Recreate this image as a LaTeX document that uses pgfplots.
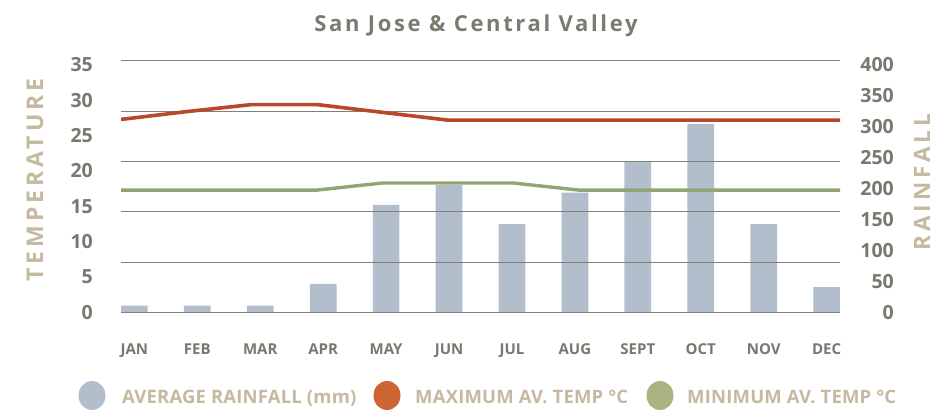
\documentclass[border=0pt]{standalone}
\usepackage{pgfplots}
\pgfplotsset{compat=1.18}
\usepackage{fontspec}
\setmainfont{Open Sans}
\newfontfamily\titlefont[LetterSpace=12]{Open Sans}
\newfontfamily\axtitlefont[LetterSpace=17.5]{Open Sans}
\newfontfamily\legfont[LetterSpace=1]{Open Sans}
\definecolor{barblue}{HTML}{B2BECB}
\definecolor{redline}{HTML}{B9472A}
\definecolor{greenline}{HTML}{91A573}
\definecolor{legorange}{HTML}{CD6532}
\definecolor{leggreen}{HTML}{AAB482}
\definecolor{gridgrey}{HTML}{808078}
\definecolor{tickgrey}{HTML}{7A776E}
\definecolor{titlegrey}{HTML}{7D7A71}
\definecolor{tan}{HTML}{C5B9A0}
\begin{document}
\begin{tikzpicture}
\path[use as bounding box] (0,0) rectangle (937pt,411pt);
% Rainfall axis (right)
\begin{axis}[
  at={(121pt,98.7pt)}, anchor=south west, scale only axis,
  width=719pt, height=251.3pt,
  xmin=-0.2123, xmax=11.2123, ymin=0, ymax=406.5,
  axis x line*=bottom, axis y line*=right,
  axis line style={draw=none},
  major tick length=0pt,
  ytick={0,50,...,400},
  xtick={0,...,11},
  xticklabels={JAN,FEB,MAR,APR,MAY,JUN,JUL,AUG,SEPT,OCT,NOV,DEC},
  /pgf/number format/assume math mode=true,
  yticklabel style={anchor=east, inner sep=0pt, xshift=54pt,
    font=\fontsize{19.5}{20}\selectfont\bfseries, text=tickgrey},
  xticklabel style={anchor=base, inner sep=0pt, yshift=-42.7pt,
    font=\fontsize{15}{16}\selectfont\bfseries, text=tickgrey},
]
\addplot[ybar, bar width=26.7pt, fill=barblue, draw=none] coordinates {
  (0,10.7) (1,10.7) (2,10.7) (3,45.8) (4,173.6) (5,205.9)
  (6,142.8) (7,193.5) (8,243.6) (9,304.6) (10,142.8) (11,40.9)};
\end{axis}
% Temperature axis (left)
\begin{axis}[
  at={(121pt,98.7pt)}, anchor=south west, scale only axis,
  width=719pt, height=251.3pt,
  xmin=-0.2123, xmax=11.2123, ymin=0, ymax=35.57,
  axis x line*=bottom, axis y line*=left,
  axis line style={draw=none},
  major tick length=0pt,
  xtick=\empty,
  ytick={0,5,...,35},
  extra y ticks={0,7.114,14.228,21.342,28.456,35.57},
  extra y tick labels={},
  extra y tick style={grid=major, major tick length=0pt},
  major grid style={draw=gridgrey, line width=1pt},
  /pgf/number format/assume math mode=true,
  yticklabel style={anchor=east, inner sep=0pt, xshift=-28pt,
    font=\fontsize{19.5}{20}\selectfont\bfseries, text=tickgrey},
  clip=false,
]
\addplot[redline, line width=3.6pt, line join=round] coordinates {
  (-0.2123,27.3) (0.8263,28.4) (1.8649,29.4) (2.9035,29.4) (3.9421,28.3)
  (4.9807,27.2) (6.0193,27.2) (7.0579,27.2) (8.0965,27.2) (9.1351,27.2)
  (10.1737,27.2) (11.2123,27.2)};
\addplot[greenline, line width=3.4pt, line join=round] coordinates {
  (-0.2123,17.3) (0.8263,17.3) (1.8649,17.3) (2.9035,17.3) (3.9421,18.3)
  (4.9807,18.3) (6.0193,18.3) (7.0579,17.3) (8.0965,17.3) (9.1351,17.3)
  (10.1737,17.3) (11.2123,17.3)};
\end{axis}
% Title
\node[anchor=base, inner sep=0pt, text=titlegrey] at (476pt,379pt)
  {\titlefont\fontsize{22}{24}\selectfont\bfseries San Jose \& Central Valley};
% Axis titles
\node[rotate=90, inner sep=0pt, text=tan] at (35pt,231pt)
  {\axtitlefont\fontsize{23}{24}\selectfont\bfseries TEMPERATURE};
\node[rotate=90, inner sep=0pt, text=tan] at (922pt,229pt)
  {\axtitlefont\fontsize{22.5}{24}\selectfont\bfseries RAINFALL};
% Legend
\fill[barblue] (92pt,15.5pt) ellipse [x radius=13.5pt, y radius=14.5pt];
\node[anchor=base west, inner sep=0pt, text=tan] at (122pt,7.5pt)
  {\legfont\fontsize{18.5}{20}\selectfont\bfseries AVERAGE RAINFALL (mm)};
\fill[legorange] (387pt,15.5pt) ellipse [x radius=13.5pt, y radius=14.5pt];
\node[anchor=base west, inner sep=0pt, text=tan] at (415pt,7.5pt)
  {\legfont\fontsize{18.5}{20}\selectfont\bfseries MAXIMUM AV. TEMP °C};
\fill[leggreen] (660pt,15.5pt) ellipse [x radius=13.5pt, y radius=14.5pt];
\node[anchor=base west, inner sep=0pt, text=tan] at (687pt,7.5pt)
  {\legfont\fontsize{18.5}{20}\selectfont\bfseries MINIMUM AV. TEMP °C};
\end{tikzpicture}
\end{document}
